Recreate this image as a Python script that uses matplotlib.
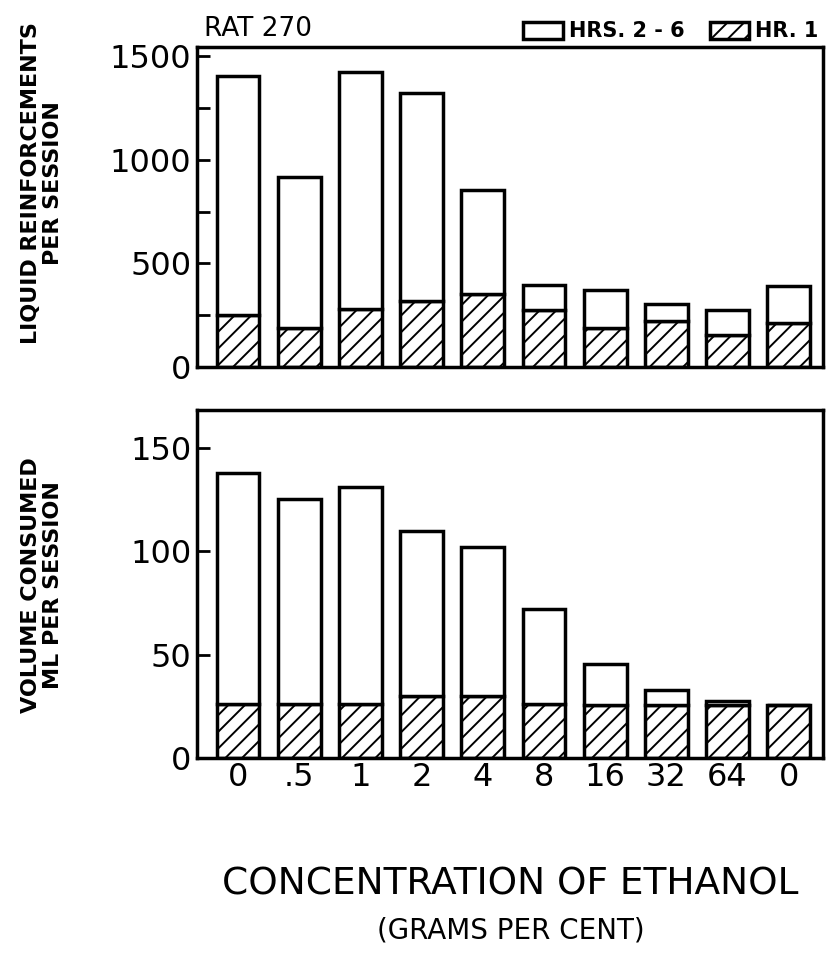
import matplotlib
matplotlib.use("Agg")
import matplotlib.pyplot as plt
import numpy as np

concentrations = ["0", ".5", "1", "2", "4", "8", "16", "32", "64", "0"]

# liquid reinforcements per session
reinf_hr1 = [253, 189, 282, 321, 352, 274, 189, 221, 156, 213]
reinf_hrs2_6 = [1153, 730, 1141, 1002, 503, 121, 185, 85, 118, 177]

# volume consumed, ml per session
vol_hr1 = [26, 26, 26, 30, 30, 26, 25.5, 25.5, 25.5, 25.5]
vol_hrs2_6 = [112, 99.5, 105, 80, 72, 46, 20, 7.5, 2, 0]

plt.rcParams["hatch.linewidth"] = 1.4
plt.rcParams["font.family"] = ["DejaVu Sans"]

LW = 2.5
BAR_W = 0.7

fig = plt.figure(figsize=(8.29, 9.56), dpi=100)
ax_top = fig.add_axes([0.2376, 0.6161, 0.7551, 0.3347])
ax_bot = fig.add_axes([0.2376, 0.2071, 0.7551, 0.3640])

x = np.arange(len(concentrations))


def draw_panel(ax, hr1, later, ylim, major, minor):
    b1 = ax.bar(x, hr1, BAR_W, color="white", edgecolor="black",
                linewidth=LW, hatch="//", zorder=2)
    b2 = ax.bar(x, later, BAR_W, bottom=hr1, color="white",
                edgecolor="black", linewidth=LW, zorder=2)
    ax.set_xlim(-0.67, 9.56)
    ax.set_ylim(*ylim)
    ax.set_yticks(major)
    ax.set_yticks(minor, minor=True)
    ax.tick_params(axis="y", which="both", direction="in", length=9,
                   width=2, labelsize=23, pad=4)
    for s in ax.spines.values():
        s.set_linewidth(LW)
    return b1, b2


h1, h2 = draw_panel(ax_top, reinf_hr1, reinf_hrs2_6, (0, 1545),
                    [0, 500, 1000, 1500], [250, 750, 1250])
ax_top.set_xticks([])

draw_panel(ax_bot, vol_hr1, vol_hrs2_6, (0, 168.5), [0, 50, 100, 150], [])
ax_bot.set_xticks(x)
ax_bot.set_xticklabels(concentrations)
ax_bot.tick_params(axis="x", length=0, labelsize=23, pad=3)

ax_top.text(0.012, 1.015, "RAT 270", transform=ax_top.transAxes,
            fontsize=19, ha="left", va="bottom")
ax_top.legend([h2, h1], ["HRS. 2 - 6", "HR. 1"], loc="lower right",
              bbox_to_anchor=(1.01, 0.985), ncol=2, frameon=False,
              handlelength=1.9, handleheight=0.9, handletextpad=0.3,
              columnspacing=1.2, borderaxespad=0.1,
              prop={"size": 15, "weight": "bold"})

fig.text(0.051, 0.809, "LIQUID REINFORCEMENTS\nPER SESSION", rotation=90,
         ha="center", va="center", fontsize=16, fontweight="bold",
         linespacing=1.15)
fig.text(0.051, 0.388, "VOLUME CONSUMED\nML PER SESSION", rotation=90,
         ha="center", va="center", fontsize=16, fontweight="bold",
         linespacing=1.15)

fig.text(0.616, 0.075, "CONCENTRATION OF ETHANOL", ha="center",
         va="center", fontsize=27)
fig.text(0.616, 0.027, "(GRAMS PER CENT)", ha="center", va="center",
         fontsize=20)

fig.savefig("out.png", dpi=100)
